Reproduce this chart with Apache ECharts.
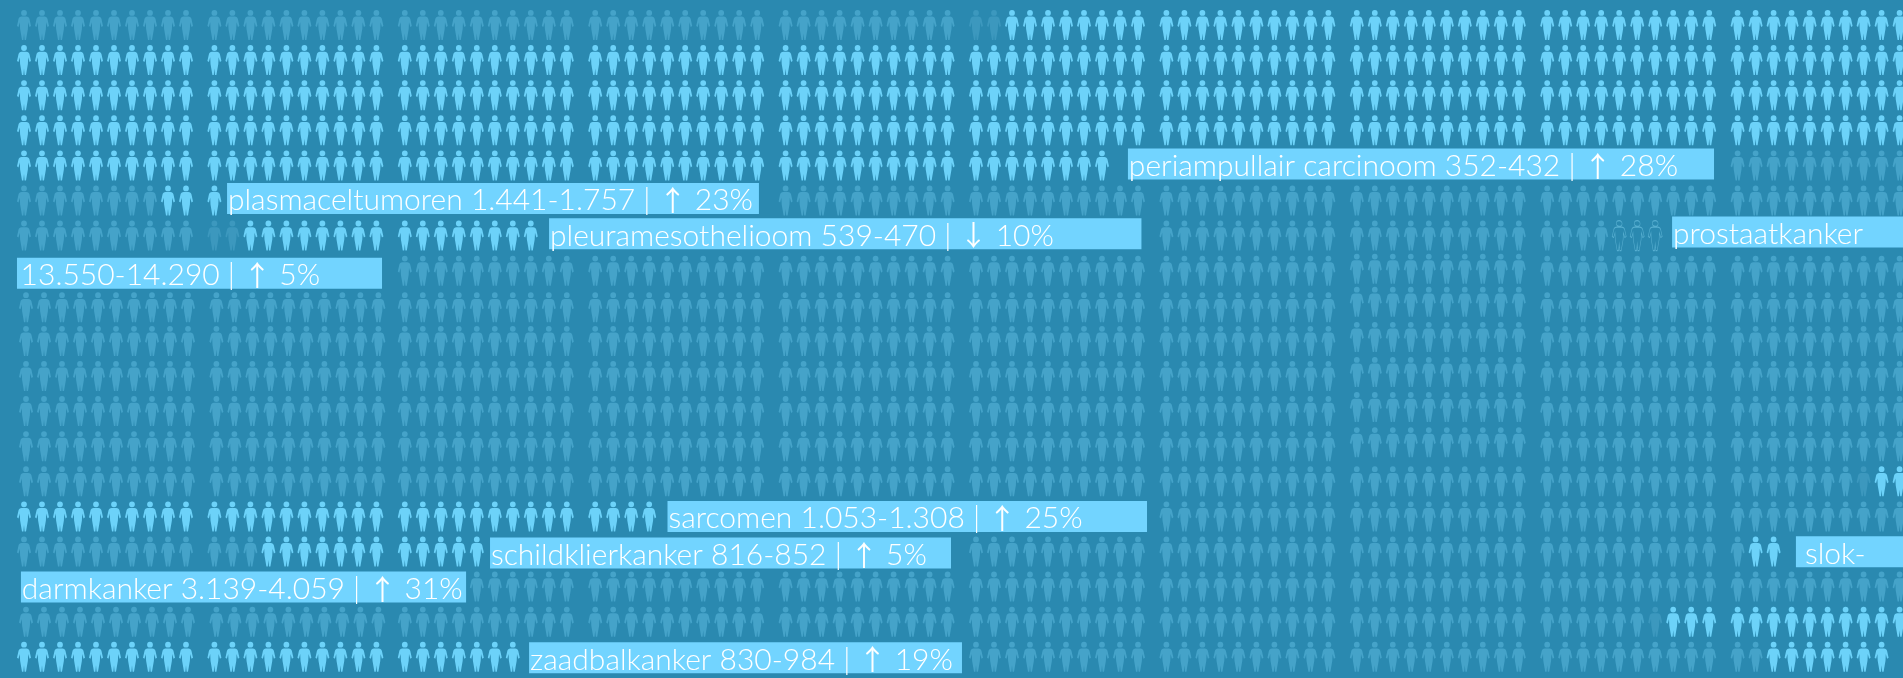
<!DOCTYPE html>
<html><head><meta charset="utf-8">
<style>html,body{margin:0;padding:0;background:#2a89b0;overflow:hidden}#c{width:1903px;height:678px}</style>
<script src="https://cdn.jsdelivr.net/npm/echarts@6/dist/echarts.min.js"></script>
</head><body><div id="c"></div>
<script>
// one row per line of the flow; [first column, last column]
const lightRuns = [
  [[52,99]], [[0,99]], [[0,99]], [[0,99]], [[0,57]], [[8,10]], [[12,27]], [], [], [], [], [], [], [[98,99]],
  [[0,33]], [[13,24],[91,92]], [], [[87,99]], [[0,26],[92,98]]
];
const darkRuns = [
  [[0,49]], [], [], [], [[90,99]], [[0,7],[40,99]], [[0,9],[60,83]], [[20,99]],
  [[0,99]], [[0,99]], [[0,99]], [[0,99]], [[0,99]], [[0,96]],
  [[60,99]], [[0,12],[50,90]], [[24,99]], [[0,85]], [[50,91]]
];
const fadingCells = [[0,50],[0,51],[6,10],[6,11],[13,97],[17,86]];
const outlineCells = [[6,84],[6,85],[6,86]];
const labelTexts = [
  'periampullair carcinoom 352-432 | ↑ 28%',
  'plasmaceltumoren 1.441-1.757 | ↑ 23%',
  'pleuramesothelioom 539-470 | ↓ 10%',
  'prostaatkanker',
  '13.550-14.290 | ↑ 5%',
  'sarcomen 1.053-1.308 | ↑ 25%',
  'schildklierkanker 816-852 | ↑ 5%',
  'slok-',
  'darmkanker 3.139-4.059 | ↑ 31%',
  'zaadbalkanker 830-984 | ↑ 19%'
];
// label bands in axis units: start, end, row
const labelStart = [61.33,11.28,29.17,91.56,-0.39,35.75,25.89,98.44,-0.17,28.06];
const labelEnd   = [93.89,40.83,62.08,104.5,19.89,62.39,51.5,104.5,24.56,52.11];
const labelRow   = [3.96,4.94,5.95,5.90,7.07,14.0,15.04,15.01,16.01,18.03];
const labelInset = [0.05,0.05,0.05,0.05,0.2,0.05,0.05,0.5,0.05,0.05];

const BLOCK = 190.4/18;
const colX = c => Math.floor(c/10)*BLOCK + c%10;
// small drift of the flow in the reference, in pixels
const driftX = (r,c) => (c<20 && ((r>=8&&r<=13)||r===16||r===17)) ? 2 : 0;
const driftY = (r,c) => {
  const b = Math.floor(c/10);
  if (b===7 && r>=8 && r<=12) return -4;
  if (b===7 && r===7) return -2;
  return r===8 ? 1.5 : 0;
};
const pos = (r,c) => [colX(c)+driftX(r,c)/18, r+driftY(r,c)/35.1];
const cells = runs => {
  const out = [];
  runs.forEach((rs,r) => rs.forEach(([a,b]) => { for(let c=a;c<=b;c++) out.push(pos(r,c)); }));
  return out;
};
const person = 'path://M7 0a2.9 2.9 0 1 1-.01 0zM4.6 6.6h4.8c1.7 0 2.7.9 3.1 2.5L14 15.900 12.500 17 11.200 12.200 10.900 19 9 30H7.600L7 23.500 6.400 30H5L3.100 19 2.800 12.200 1.500 17 0 15.900 1.500 9.100C1.900 7.500 2.900 6.600 4.600 6.600z';
const mark = (data,color,extra) => ({
  type:'scatter', data, symbol:person, symbolSize:[14,30], silent:true, animation:false,
  itemStyle:Object.assign({color,opacity:1},extra||{})
});
const chart = echarts.init(document.getElementById('c'));
chart.setOption({
  backgroundColor:'#2a89b0', animation:false,
  grid:{left:0,right:0,top:0,bottom:0},
  xAxis:{type:'value',min:-24/18,max:(1903-24)/18,show:false},
  yAxis:{type:'value',inverse:true,min:-25/35.1,max:(678-25)/35.1,show:false},
  series:[
    mark(cells(darkRuns),'#45a3c9'),
    mark(fadingCells.map(([r,c])=>pos(r,c)),'#3c98be'),
    mark(cells(lightRuns),'#6cd2f9'),
    mark(outlineCells.map(([r,c])=>pos(r,c)),'rgba(0,0,0,0)',{borderColor:'#56aed0',borderWidth:0.8}),
    {type:'custom',silent:true,animation:false,clip:true,z:5,
     data:labelTexts.map((t,i)=>[labelStart[i],labelEnd[i],labelRow[i],labelInset[i],t]),
     encode:{x:[0,1],y:2},
     renderItem(params,api){
       const a=api.coord([api.value(0),api.value(2)]), b=api.coord([api.value(1),api.value(2)]);
       const tx=api.coord([api.value(0)+api.value(3),api.value(2)]);
       const txt=labelTexts[params.dataIndex].replace(/[↑↓]/,'{a|$&}');
       return {type:'group',children:[
         {type:'rect',shape:{x:a[0],y:a[1]-15.5,width:b[0]-a[0],height:31},style:{fill:'#72d4ff'}},
         {type:'text',style:{x:tx[0],y:a[1]+2,text:txt,fill:'#fff',
           fontFamily:'Lato',fontWeight:300,fontSize:30,verticalAlign:'middle',align:'left',
           rich:{a:{fontFamily:'Noto Sans CJK JP',fontWeight:'normal',fontSize:28,fill:'#fff'}}}}
       ]};
     }}
  ]
});
</script></body></html>
